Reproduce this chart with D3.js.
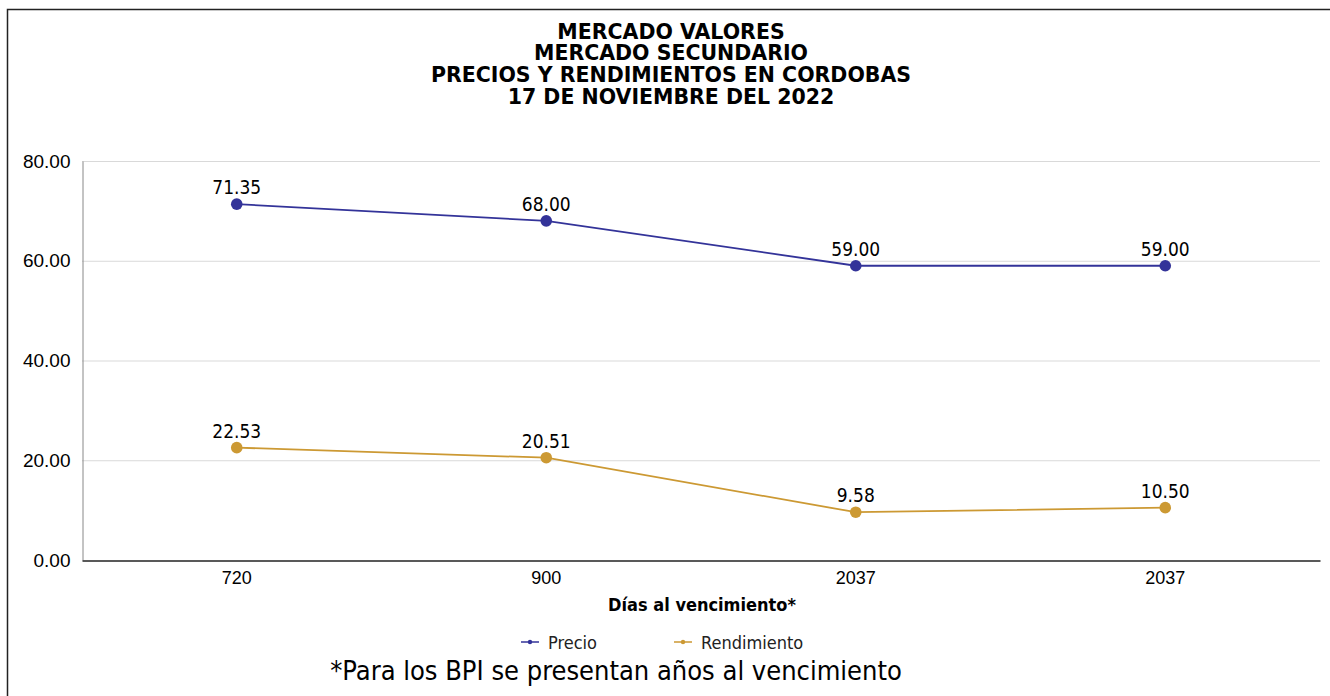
<!DOCTYPE html>
<html>
<head>
<meta charset="utf-8">
<script src="https://cdn.jsdelivr.net/npm/d3@7"></script>
<style>
  body { margin: 0; background: #fff; }
  svg { display: block; font-family: "DejaVu Sans Condensed", "DejaVu Sans", sans-serif; }
</style>
</head>
<body>
<div class="js-chart"></div>
<script>
let categories = ["720", "900", "2037", "2037 "];
let precio = [71.35, 68.00, 59.00, 59.00];
let rendimiento = [22.53, 20.51, 9.58, 10.50];
let yTicks = [0, 20, 40, 60, 80];
let titleLines = [
    "MERCADO VALORES",
    "MERCADO SECUNDARIO",
    "PRECIOS Y RENDIMIENTOS EN CORDOBAS",
    "17 DE NOVIEMBRE DEL 2022"
];

let series = [
    {name: "Precio", values: precio, color: "#333399"},
    {name: "Rendimiento", values: rendimiento, color: "#CC9933"}
];

let width = 1330, height = 696;
let margin = {top: 161, right: 10, bottom: 136, left: 82};

let svg = d3.select(".js-chart").append("svg")
    .attr("width", width)
    .attr("height", height);

// frame
svg.append("rect")
    .attr("x", 7.5).attr("y", 9.5)
    .attr("width", width).attr("height", height)
    .attr("fill", "none")
    .attr("stroke", "#222")
    .attr("stroke-width", 1.5);

let x = d3.scaleBand()
    .domain(categories)
    .range([margin.left, width - margin.right]);

let y = d3.scaleLinear()
    .domain([0, 80])
    .range([height - margin.bottom, margin.top]);

// gridlines
svg.append("g")
    .selectAll("line")
    .data(yTicks.filter(d => d > 0))
    .join("line")
    .attr("x1", margin.left).attr("x2", width - margin.right)
    .attr("y1", d => y(d) + 0.5).attr("y2", d => y(d) + 0.5)
    .attr("stroke", "#d9d9d9");

// y axis
let yAxis = svg.append("g")
    .attr("transform", `translate(${margin.left + 0.5},0)`)
    .call(d3.axisLeft(y).tickValues(yTicks).tickFormat(d3.format(".2f")).tickSize(0).tickPadding(12));
yAxis.select(".domain").attr("stroke", "#888");
yAxis.selectAll("text").attr("font-size", 19).attr("fill", "#000");

// x axis
let xAxis = svg.append("g")
    .attr("transform", `translate(0,${y(0) + 0.5})`)
    .call(d3.axisBottom(x).tickSize(0).tickPadding(11).tickFormat(d => d.trim()));
xAxis.select(".domain").attr("stroke", "#222").attr("stroke-width", 1.5);
xAxis.selectAll("text").attr("font-size", 18).attr("fill", "#000");

let cx = (d, i) => x(categories[i]) + x.bandwidth() / 2;

let line = d3.line()
    .x((d, i) => cx(d, i))
    .y(d => y(d));

series.forEach(s => {
    let g = svg.append("g");
    g.append("path")
        .datum(s.values)
        .attr("d", line)
        .attr("fill", "none")
        .attr("stroke", s.color)
        .attr("stroke-width", 1.8);
    g.selectAll("circle")
        .data(s.values)
        .join("circle")
        .attr("cx", cx)
        .attr("cy", d => y(d))
        .attr("r", 5.8)
        .attr("fill", s.color);
    g.selectAll("text")
        .data(s.values)
        .join("text")
        .attr("x", cx)
        .attr("y", d => y(d) - 10)
        .attr("text-anchor", "middle")
        .attr("font-size", 19)
        .text(d => d3.format(".2f")(d));
});

// title
svg.append("g")
    .selectAll("text")
    .data(titleLines)
    .join("text")
    .attr("x", 671)
    .attr("y", (d, i) => 38.5 + i * 21.7)
    .attr("text-anchor", "middle")
    .attr("font-family", "DejaVu Sans")
    .attr("font-size", 20.5)
    .attr("font-weight", "bold")
    .text(d => d);

// x axis title
svg.append("text")
    .attr("x", 702).attr("y", 611)
    .attr("text-anchor", "middle")
    .attr("font-size", 18)
    .attr("font-weight", "bold")
    .text("Días al vencimiento*");

// legend
let legendX = [521, 674];
let legend = svg.append("g")
    .selectAll("g")
    .data(series)
    .join("g")
    .attr("transform", (d, i) => `translate(${legendX[i]},642)`);
legend.append("line")
    .attr("x1", 0).attr("x2", 18)
    .attr("stroke", d => d.color).attr("stroke-width", 1.5);
legend.append("circle")
    .attr("cx", 9).attr("r", 2.2)
    .attr("fill", d => d.color);
legend.append("text")
    .attr("x", 27).attr("y", 6.5)
    .attr("font-size", 18)
    .attr("fill", "#222")
    .text(d => d.name);

// footnote
svg.append("text")
    .attr("x", 616).attr("y", 680)
    .attr("text-anchor", "middle")
    .attr("font-size", 27)
    .text("*Para los BPI se presentan años al vencimiento");
</script>
</body>
</html>
